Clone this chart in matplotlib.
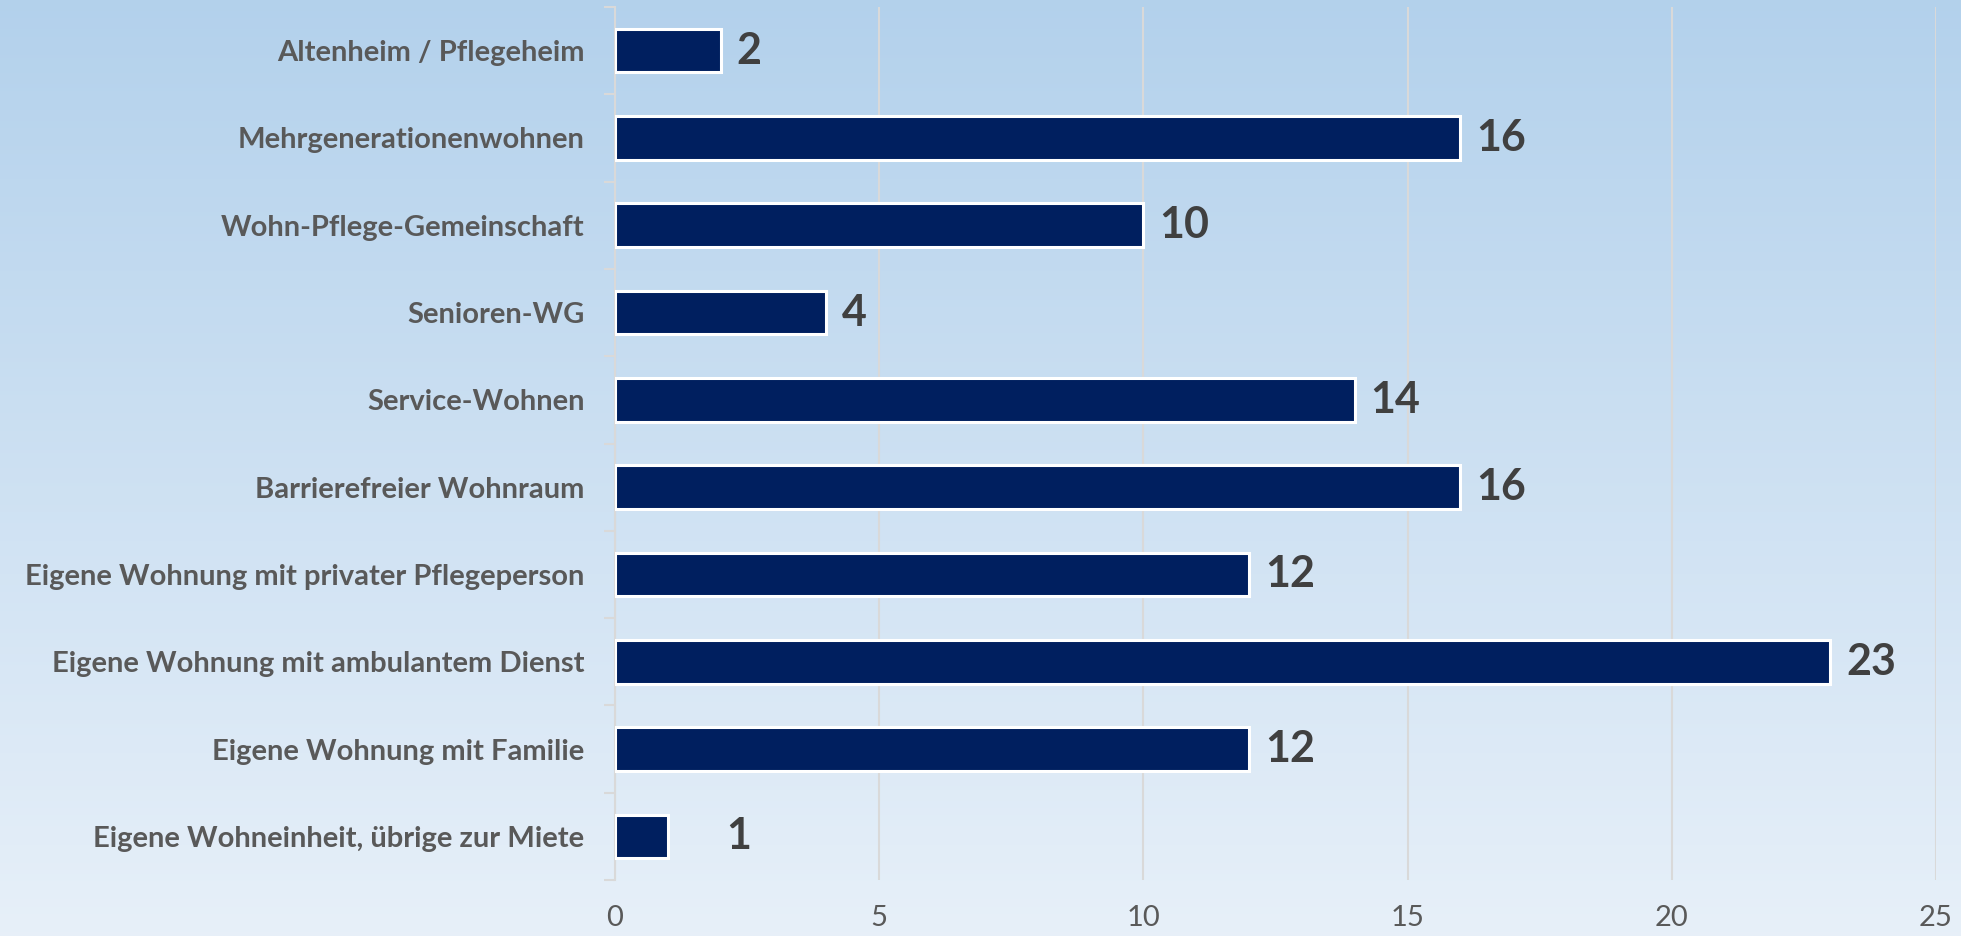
import matplotlib.pyplot as plt
import numpy as np

# Daten (von unten nach oben)
kategorien = [
    "Eigene Wohneinheit, übrige zur Miete",
    "Eigene Wohnung mit Familie",
    "Eigene Wohnung mit ambulantem Dienst",
    "Eigene Wohnung mit privater Pflegeperson",
    "Barrierefreier Wohnraum",
    "Service-Wohnen",
    "Senioren-WG",
    "Wohn-Pflege-Gemeinschaft",
    "Mehrgenerationenwohnen",
    "Altenheim / Pflegeheim",
]
werte = [1, 12, 23, 12, 16, 14, 4, 10, 16, 2]
x_ticks = [0, 5, 10, 15, 20, 25]

plt.rcParams['font.family'] = ['Lato', 'DejaVu Sans']

fig = plt.figure(figsize=(19.61, 9.36), dpi=100)

# Hintergrund-Verlauf
bg = fig.add_axes([0, 0, 1, 1], zorder=-10)
verlauf = np.linspace(0, 1, 256).reshape(-1, 1)
oben = np.array([0.702, 0.820, 0.925])
unten = np.array([0.906, 0.941, 0.976])
farben = oben + (unten - oben) * verlauf[:, :, None]
bg.imshow(farben, aspect='auto', extent=[0, 1, 0, 1])
bg.axis('off')

ax = fig.add_axes([615 / 1961, 1 - 880 / 936, (1936 - 615) / 1961, (880 - 7) / 936])
ax.patch.set_alpha(0)

y = np.arange(len(kategorien))
ax.barh(y, werte, height=0.5, color='#001f5f', edgecolor='white', linewidth=2.2, zorder=3)

for i, v in enumerate(werte):
    versatz = 1.1 if v == 1 else 0.3
    ax.text(v + versatz, i, str(v), va='center', ha='left', fontsize=31,
            fontweight='bold', color='#404040', zorder=4)

ax.set_xlim(0, 25)
ax.set_ylim(-0.5, len(kategorien) - 0.5)
ax.set_xticks(x_ticks)
ax.set_xticklabels([str(t) for t in x_ticks], fontsize=21, color='#595959')
ax.tick_params(axis='x', length=0, pad=18)
ax.grid(axis='x', color='#d9d9d9', linewidth=1.5, zorder=0)

ax.set_yticks(y)
ax.set_yticklabels(kategorien, fontsize=21, fontweight='bold', color='#595959')
ax.tick_params(axis='y', which='major', length=0, pad=22)
ax.set_yticks(np.arange(-0.5, len(kategorien)), minor=True)
ax.tick_params(axis='y', which='minor', length=8, color='#d9d9d9', width=1.5)

for s in ['top', 'right', 'bottom']:
    ax.spines[s].set_visible(False)
ax.spines['left'].set_color('#d9d9d9')
ax.spines['left'].set_linewidth(1.5)

fig.savefig('out.png', dpi=100)
